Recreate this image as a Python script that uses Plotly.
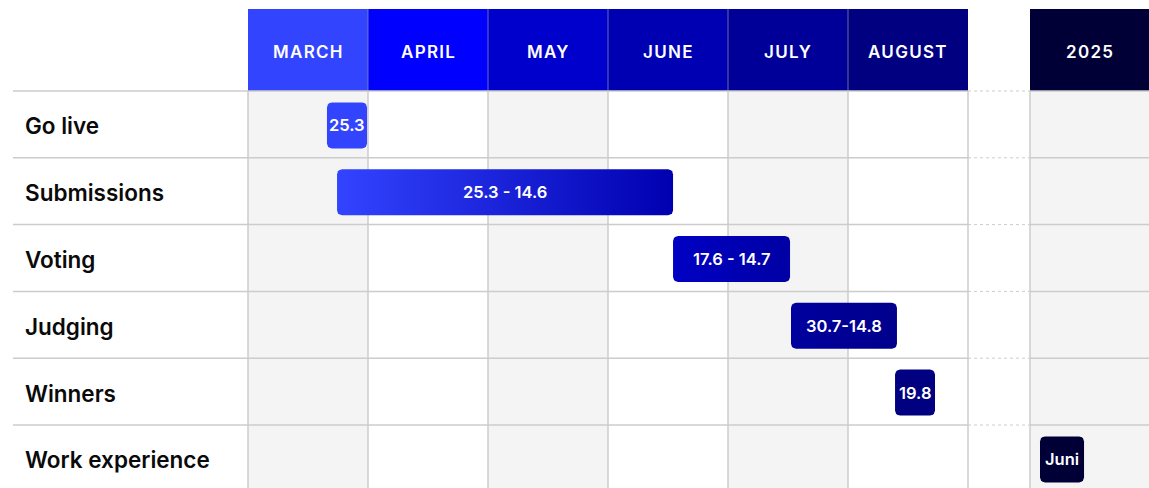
import plotly.graph_objects as go
import numpy as np

# ---- data ----
months = ["MARCH", "APRIL", "MAY", "JUNE", "JULY", "AUGUST"]
month_colors = ["#3344ff", "#0000ff", "#0000cc", "#0000b3", "#000099", "#000080"]
year_label = "2025"
year_color = "#000036"

tasks = ["Go live", "Submissions", "Voting", "Judging", "Winners", "Work experience"]
bar_labels = ["25.3", "25.3 - 14.6", "17.6 - 14.7", "30.7-14.8", "19.8", "Juni"]
# positions in months since 1 March (2025 column placed after a gap)
bar_start = [0.658, 0.742, 3.542, 4.525, 5.392, 6.600]
bar_end = [0.992, 3.542, 4.517, 5.408, 5.725, 6.967]
bar_color_start = ["#3344ff", "#3344ff", "#0000c4", "#00009e", "#000080", "#000036"]
bar_color_end = ["#3344ff", "#0000b0", "#0000a4", "#00008c", "#000080", "#000036"]

# ---- geometry (axis units) ----
W, H = 1149, 488
COL_PX = 120.0
ROW_PX = 66.8
gap_w = 62 / COL_PX
year_x0 = len(months) + gap_w
header_h = 82 / ROW_PX
x_range = [-248 / COL_PX, (W - 248) / COL_PX]
y_top = -91 / ROW_PX
y_bot = (H - 91) / ROW_PX
label_x = (23 - 248) / COL_PX
line_x0 = (13 - 248) / COL_PX
TXT_DY = 1.5 / ROW_PX
GRAY_BG = "#f4f4f4"
GRID = "#cccccc"
FONT = "Inter"

fig = go.Figure()
shapes = []
annotations = []

# column backgrounds
col_spans = [(i, i + 1) for i in range(len(months))] + [(year_x0, year_x0 + 1.2)]
for k, (a, b) in enumerate(col_spans):
    if k % 2 == 0:
        shapes.append(dict(type="rect", xref="x", yref="y", x0=a, x1=b, y0=0, y1=y_bot + 1,
                           fillcolor=GRAY_BG, line_width=0, layer="below"))


def spaced(t):
    return '<span style="letter-spacing:1.3px">' + t + '</span>'


# header cells
for i, (m, c) in enumerate(zip(months, month_colors)):
    shapes.append(dict(type="rect", xref="x", yref="y", x0=i, x1=i + 1, y0=-header_h, y1=0,
                       fillcolor=c, line_width=0, layer="below"))
    annotations.append(dict(x=i + 0.5, y=-header_h / 2 + TXT_DY, xref="x", yref="y", text=spaced(m),
                            showarrow=False, font=dict(family=FONT, size=17, color="white", weight=600)))
shapes.append(dict(type="rect", xref="x", yref="y", x0=year_x0, x1=year_x0 + 1.2, y0=-header_h, y1=0,
                   fillcolor=year_color, line_width=0, layer="below"))
annotations.append(dict(x=year_x0 + 0.5, y=-header_h / 2 + TXT_DY, xref="x", yref="y", text=spaced(year_label),
                        showarrow=False, font=dict(family=FONT, size=17, color="white", weight=600)))

# header separators
for i in range(1, len(months)):
    shapes.append(dict(type="line", xref="x", yref="y", x0=i, x1=i, y0=-header_h, y1=0,
                       line=dict(color="rgba(150,150,170,0.7)", width=1), layer="below"))

# vertical grid lines
for xv in list(range(0, len(months) + 1)) + [year_x0]:
    shapes.append(dict(type="line", xref="x", yref="y", x0=xv, x1=xv, y0=0, y1=y_bot + 1,
                       line=dict(color=GRID, width=1.5), layer="below"))

# horizontal grid lines
for r in range(len(tasks)):
    shapes.append(dict(type="line", xref="x", yref="y", x0=line_x0, x1=len(months), y0=r, y1=r,
                       line=dict(color=GRID, width=1.5), layer="below"))
    shapes.append(dict(type="line", xref="x", yref="y", x0=len(months), x1=year_x0, y0=r, y1=r,
                       line=dict(color=GRID, width=1, dash="dot"), layer="below"))
    shapes.append(dict(type="line", xref="x", yref="y", x0=year_x0, x1=x_range[1] + 0.1, y0=r, y1=r,
                       line=dict(color=GRID, width=1.5), layer="below"))

# row labels
for r, t in enumerate(tasks):
    annotations.append(dict(x=label_x, y=r + 0.5 + TXT_DY, xref="x", yref="y", text=t, showarrow=False,
                            xanchor="left", font=dict(family=FONT, size=22.5, color="#0a0a0a", weight=600)))


def rounded_rect(x0, x1, yc, h_px=46, r_px=5, n=6):
    rx = r_px / COL_PX
    ry = r_px / ROW_PX
    hy = (h_px / 2) / ROW_PX
    y0, y1 = yc - hy, yc + hy
    xs, ys = [], []
    corners = [(x1 - rx, y0 + ry, -np.pi / 2, 0), (x1 - rx, y1 - ry, 0, np.pi / 2),
               (x0 + rx, y1 - ry, np.pi / 2, np.pi), (x0 + rx, y0 + ry, np.pi, 1.5 * np.pi)]
    for cx, cy, a0, a1 in corners:
        for a in np.linspace(a0, a1, n):
            xs.append(cx + rx * np.cos(a))
            ys.append(cy + ry * np.sin(a))
    xs.append(xs[0]); ys.append(ys[0])
    return xs, ys


for r in range(len(tasks)):
    yc = r + 0.5 + 1.0 / ROW_PX
    xs, ys = rounded_rect(bar_start[r], bar_end[r], yc)
    fig.add_trace(go.Scatter(
        x=xs, y=ys, mode="lines", fill="toself", line=dict(width=0),
        fillgradient=dict(type="horizontal",
                          colorscale=[[0, bar_color_start[r]], [1, bar_color_end[r]]]),
        hoverinfo="skip", showlegend=False))
    annotations.append(dict(x=(bar_start[r] + bar_end[r]) / 2, y=yc, xref="x", yref="y",
                            text=bar_labels[r], showarrow=False,
                            font=dict(family=FONT, size=16.5, color="white", weight=600)))

fig.update_layout(
    width=W, height=H, margin=dict(l=0, r=0, t=0, b=0),
    paper_bgcolor="white", plot_bgcolor="white", showlegend=False,
    shapes=shapes, annotations=annotations,
    xaxis=dict(range=x_range, visible=False, fixedrange=True),
    yaxis=dict(range=[y_bot, y_top], visible=False, fixedrange=True),
)

fig.write_html("out.html", config={"displayModeBar": False, "staticPlot": True},
               post_script="document.body.style.margin='0';document.body.style.overflow='hidden';")
